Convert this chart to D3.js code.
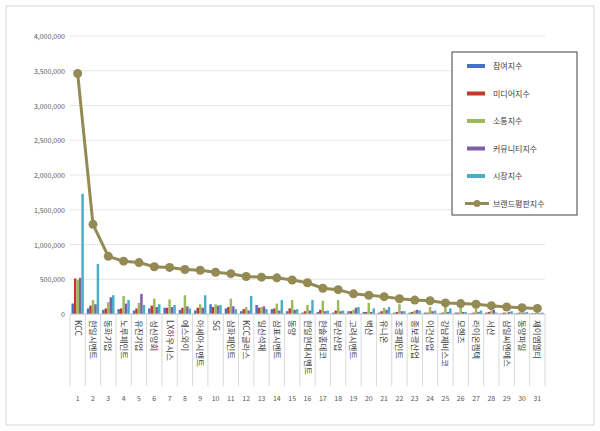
<!DOCTYPE html>
<html><head><meta charset="utf-8">
<script src="https://cdn.jsdelivr.net/npm/d3@7"></script>
<style>body{margin:0;background:#fff}text{font-family:"Noto Sans CJK KR","Noto Sans",sans-serif}</style>
</head><body><svg id="c" width="600" height="431"></svg>
<script>
const categories=["KCC","한일시멘트","동화기업","노루페인트","유진기업","성신양회","LX하우시스","에스와이","아세아시멘트","SG","삼화페인트","KCC글라스","일신석재","삼표시멘트","동양","한일현대시멘트","한솔홈데코","부산산업","고려시멘트","벽산","유니온","조광페인트","종보광산업","이건산업","강남제비스코","모헨즈","라이온켐텍","서산","삼일씨엔에스","동양파일","제이엠엘티"];
const seriesNames=["참여지수","미디어지수","소통지수","커뮤니티지수","시장지수"];
const participation=[150000,80000,60000,70000,50000,80000,90000,60000,50000,140000,80000,40000,130000,70000,40000,20000,30000,20000,40000,30000,20000,20000,20000,20000,10000,20000,10000,20000,10000,10000,10000];
const media=[510000,120000,80000,80000,80000,120000,90000,90000,90000,100000,100000,70000,90000,80000,80000,40000,60000,50000,40000,30000,40000,30000,30000,20000,20000,20000,20000,30000,20000,20000,10000];
const communication=[490000,200000,170000,260000,160000,220000,210000,270000,140000,140000,220000,100000,100000,150000,200000,130000,190000,200000,60000,160000,90000,140000,50000,100000,130000,150000,80000,50000,20000,30000,20000];
const community=[520000,140000,240000,150000,290000,100000,100000,110000,90000,120000,110000,50000,110000,50000,60000,50000,40000,40000,90000,30000,60000,40000,60000,40000,30000,30000,30000,60000,30000,20000,10000];
const market=[1730000,720000,270000,200000,130000,140000,130000,80000,270000,130000,70000,260000,70000,200000,70000,200000,50000,50000,100000,80000,100000,40000,50000,50000,80000,30000,50000,20000,40000,30000,20000];
const brandIndex=[3460000,1290000,830000,760000,740000,680000,670000,640000,630000,600000,580000,540000,530000,520000,490000,450000,370000,350000,290000,270000,250000,220000,200000,190000,160000,150000,140000,120000,100000,90000,80000];
const yTicks=[0,500000,1000000,1500000,2000000,2500000,3000000,3500000,4000000];
const colors=["#4472c4","#c0392b","#9bbb59","#7f5fa8","#4bacc6"];
const lineColor="#948a54";
const seriesData=[participation,media,communication,community,market];

const svg=d3.select("#c");
svg.append("rect").attr("x",6).attr("y",6).attr("width",588).attr("height",419).attr("fill","#fff").attr("stroke","#d9d9d9");
const m={l:70,r:545,t:36,b:314};
const x=d3.scaleBand().domain(categories.map((d,i)=>i)).range([m.l,m.r]);
const y=d3.scaleLinear().domain([0,4000000]).range([m.b,m.t]);
const g=svg.append("g");
yTicks.forEach(t=>{
  g.append("line").attr("x1",m.l).attr("x2",m.r).attr("y1",y(t)).attr("y2",y(t)).attr("stroke","#e6e6e6");
  g.append("text").attr("x",m.l-5).attr("y",y(t)+3).attr("text-anchor","end").attr("font-size",7).attr("fill","#595959").text(d3.format(",")(t));
});
const xs=d3.scaleBand().domain(d3.range(5)).range([0,x.bandwidth()]).paddingOuter(0.6);
seriesData.forEach((arr,s)=>{
  g.selectAll(null).data(arr).enter().append("rect")
   .attr("x",(d,i)=>x(i)+xs(s)).attr("width",xs.bandwidth())
   .attr("y",d=>y(d)).attr("height",d=>m.b-y(d)).attr("fill",colors[s]);
});
g.append("line").attr("x1",m.l).attr("x2",m.r).attr("y1",m.b).attr("y2",m.b).attr("stroke","#bfbfbf");
categories.forEach((c,i)=>{
  const cx=x(i)+x.bandwidth()/2;
  g.append("line").attr("x1",x(i)).attr("x2",x(i)).attr("y1",m.b).attr("y2",m.b+72).attr("stroke","#d9d9d9");
  g.append("text").attr("transform",`translate(${cx-3},${m.b+6}) rotate(90)`).attr("font-size",8.5).attr("fill","#404040").text(c);
  g.append("text").attr("x",cx).attr("y",m.b+87).attr("text-anchor","middle").attr("font-size",7).attr("fill","#595959").text(i+1);
});
g.append("line").attr("x1",m.r).attr("x2",m.r).attr("y1",m.b).attr("y2",m.b+72).attr("stroke","#d9d9d9");
const line=d3.line().x((d,i)=>x(i)+x.bandwidth()/2).y(d=>y(d));
g.append("path").datum(brandIndex).attr("d",line).attr("fill","none").attr("stroke",lineColor).attr("stroke-width",3);
g.selectAll(null).data(brandIndex).enter().append("circle").attr("cx",(d,i)=>x(i)+x.bandwidth()/2).attr("cy",d=>y(d)).attr("r",4.5).attr("fill",lineColor);
// legend
const lg=svg.append("g");
lg.append("rect").attr("x",452).attr("y",52).attr("width",125).attr("height",163).attr("fill","#fff").attr("stroke","#404040");
const names=[...seriesNames,"브랜드평판지수"];
names.forEach((n,i)=>{
  const yy=66+i*27.5;
  if(i<5) lg.append("rect").attr("x",467).attr("y",yy-2).attr("width",18).attr("height",4).attr("fill",colors[i]);
  else {lg.append("line").attr("x1",465).attr("x2",489).attr("y1",yy).attr("y2",yy).attr("stroke",lineColor).attr("stroke-width",3);
        lg.append("circle").attr("cx",477).attr("cy",yy).attr("r",3.5).attr("fill",lineColor);}
  lg.append("text").attr("x",493).attr("y",yy+3).attr("font-size",8).attr("fill","#404040").text(n);
});
</script></body></html>
